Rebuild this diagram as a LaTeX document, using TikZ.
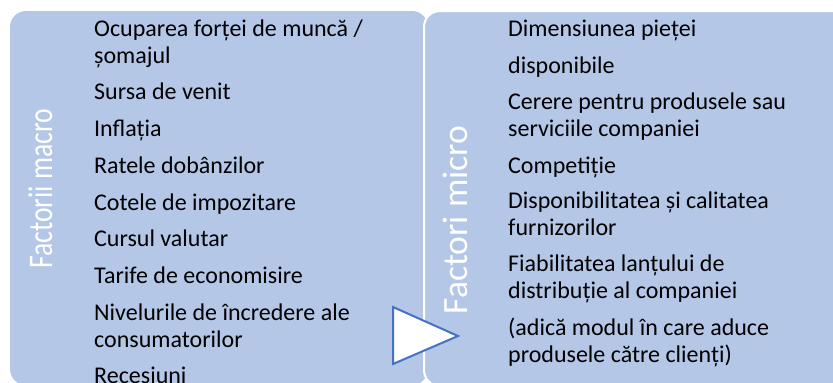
\documentclass[tikz,border=0pt]{standalone}
\usepackage{fontspec}
\setmainfont{Carlito}
\definecolor{boxblue}{HTML}{B4C7E7}
\definecolor{arrowblue}{HTML}{4472C4}

\begin{document}
\begin{tikzpicture}[x=1pt, y=-1pt,
  panel/.style={fill=boxblue, rounded corners=16pt},
  title/.style={rotate=90, text=white, inner sep=0pt, anchor=base},
  item/.style={anchor=base west, align=left, inner sep=0pt, font=\fontsize{24}{26.5}\selectfont}]
\useasboundingbox (0,0) rectangle (833,383);
\clip (0,0) rectangle (833,383);
\fill[panel] (10,11) rectangle (428,385);
\filldraw[panel, draw=white, line width=2pt] (424,11) rectangle (860,386);
\filldraw[fill=white, draw=arrowblue, line width=2pt, line join=miter] (393,307) -- (393,364) -- (458,336) -- cycle;

\node[title, xscale=0.8, font=\fontsize{34.5}{36}\selectfont] (macro) at (52,189) {Factorii macro};
\node[title, font=\fontsize{35.5}{38}\selectfont] (micro) at (467,220) {Factori micro};

\node[item] (m1) at (94,63) {Ocuparea forței de muncă /\\șomajul};
\node[item] (m2) at (94,99) {Sursa de venit};
\node[item] (m3) at (94,136) {Inflația};
\node[item] (m4) at (94,173) {Ratele dobânzilor};
\node[item] (m5) at (94,210) {Cotele de impozitare};
\node[item] (m6) at (94,246) {Cursul valutar};
\node[item] (m7) at (94,283) {Tarife de economisire};
\node[item] (m8) at (94,347) {Nivelurile de încredere ale\\consumatorilor};
\node[item] (m9) at (94,383) {Recesiuni};

\node[item] (c1) at (508,36) {Dimensiunea pieței};
\node[item] (c2) at (508,73) {disponibile};
\node[item] (c3) at (508,136) {Cerere pentru produsele sau\\serviciile companiei};
\node[item] (c4) at (508,173) {Competiție};
\node[item] (c5) at (508,235) {Disponibilitatea și calitatea\\furnizorilor};
\node[item] (c6) at (508,298) {Fiabilitatea lanțului de\\distribuție al companiei};
\node[item] (c7) at (508,362) {(adică modul în care aduce\\produsele către clienți)};
\end{tikzpicture}
\end{document}
